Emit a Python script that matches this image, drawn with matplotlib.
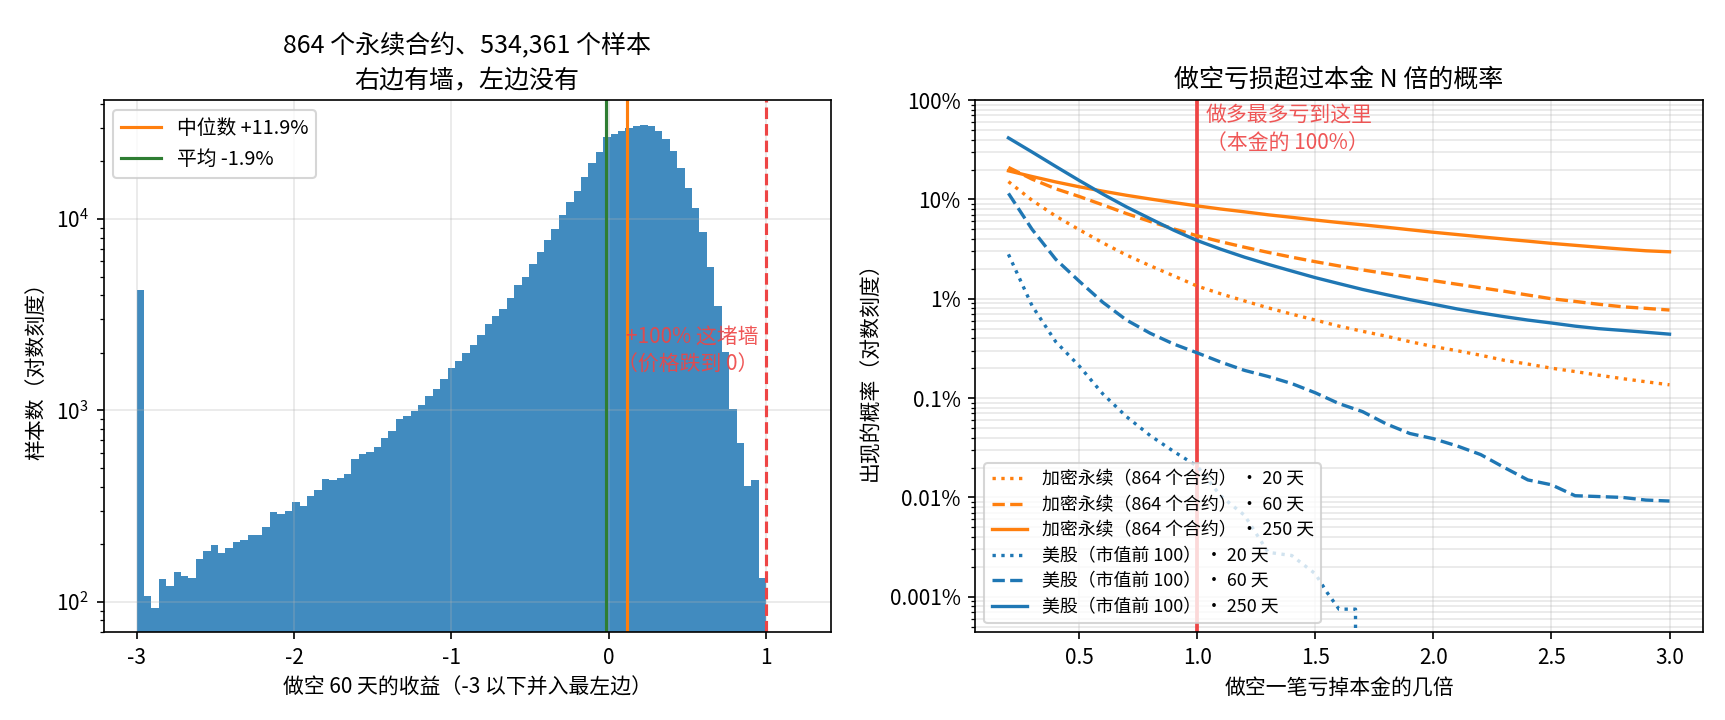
import numpy as np
import matplotlib
matplotlib.use('Agg')
import matplotlib.pyplot as plt
from matplotlib.ticker import FuncFormatter

plt.rcParams['font.family'] = ['Noto Sans CJK SC', 'DejaVu Sans']
plt.rcParams['axes.unicode_minus'] = False

# ---- left: histogram of 60-day short returns (85 bins from -3 to 1) ----
bin_lo, bin_hi, n_bins = -3.0, 1.0, 85
bin_counts = [
    4250, 107, 93, 131, 121, 143, 136, 133, 167, 184,
    198, 180, 191, 205, 210, 223, 223, 245, 294, 287,
    297, 331, 316, 356, 382, 436, 431, 442, 464, 555,
    589, 604, 641, 714, 777, 897, 931, 988, 1062, 1183,
    1288, 1453, 1660, 1808, 1988, 2189, 2471, 2820, 3104, 3380,
    3858, 4511, 4966, 5807, 6711, 7758, 8864, 10490, 12280, 14020,
    16600, 19650, 22300, 26700, 27700, 28900, 30000, 30760, 31040, 30650,
    28900, 26060, 22600, 18570, 14450, 11480, 8600, 5640, 3530, 2010,
    1012, 675, 405, 435, 134,
]
median_ret = 0.119
mean_ret = -0.019
wall_x = 1.0

# ---- right: probability that a short loses more than N x principal ----
mult = [0.2, 0.3, 0.4, 0.5, 0.6, 0.7, 0.8, 0.9, 1.0, 1.1,
        1.2, 1.3, 1.4, 1.5, 1.6, 1.7, 1.8, 1.9, 2.0, 2.1,
        2.2, 2.3, 2.4, 2.5, 2.6, 2.7, 2.8, 2.9, 3.0]
crypto_20 = [0.151, 0.098, 0.068, 0.0495, 0.0365, 0.0275, 0.0215, 0.0170, 0.0134, 0.0112,
             0.0095, 0.0081, 0.0070, 0.0061, 0.0053, 0.0047, 0.0042, 0.0037, 0.0033, 0.0030,
             0.0027, 0.0024, 0.0022, 0.0020, 0.00185, 0.00170, 0.00157, 0.00146, 0.00136]
crypto_60 = [0.210, 0.160, 0.128, 0.107, 0.088, 0.072, 0.060, 0.0505, 0.0430, 0.0375,
             0.0330, 0.0293, 0.0262, 0.0236, 0.0214, 0.0195, 0.0179, 0.0165, 0.0152, 0.0140,
             0.0129, 0.0119, 0.0109, 0.0100, 0.0094, 0.0088, 0.0083, 0.0080, 0.0077]
crypto_250 = [0.194, 0.170, 0.150, 0.134, 0.121, 0.110, 0.101, 0.093, 0.086, 0.080,
              0.075, 0.070, 0.066, 0.062, 0.0585, 0.0555, 0.0525, 0.0495, 0.0467, 0.0443,
              0.0420, 0.0399, 0.0380, 0.0361, 0.0345, 0.0330, 0.0316, 0.0304, 0.0297]
us_60 = [0.115, 0.050, 0.0250, 0.0150, 0.0092, 0.0061, 0.0045, 0.0035, 0.00285, 0.00230,
         0.00190, 0.00165, 0.00140, 0.00113, 0.00088, 0.00073, 0.00055, 0.00044, 0.00039, 0.00033,
         0.00027, 0.00020, 0.00015, 0.000134, 0.000104, 0.000102, 0.000100, 0.000094, 0.000092]
us_250 = [0.416, 0.300, 0.215, 0.155, 0.113, 0.084, 0.064, 0.049, 0.0385, 0.0315,
          0.0262, 0.0222, 0.0190, 0.0163, 0.0142, 0.0124, 0.0110, 0.0098, 0.0088, 0.0079,
          0.0072, 0.0066, 0.0061, 0.0057, 0.0053, 0.0050, 0.0048, 0.0046, 0.0044]
# 20-day US series runs out of samples after ~1.67x
us_20_mult = [0.2, 0.3, 0.4, 0.5, 0.6, 0.7, 0.8, 0.9, 1.0, 1.1,
              1.2, 1.3, 1.4, 1.5, 1.55, 1.6, 1.67, 1.7]
us_20 = [0.028, 0.0085, 0.0037, 0.0021, 0.0011, 0.00065, 0.00042, 0.00029, 0.000206, 0.000103,
         0.000066, 0.000028, 0.000026, 0.000017, 0.000011, 0.0000075, 0.0000075, 0.0]

ORANGE = '#ff7f0e'
BLUE = '#1f77b4'
GREEN = '#2e7d32'
RED = '#ee4545'

fig, (ax1, ax2) = plt.subplots(1, 2, figsize=(11.5, 4.8), dpi=150)
fig.subplots_adjust(left=0.06, right=0.987, bottom=0.122, top=0.861, wspace=0.199)

# LEFT PANEL
edges = np.linspace(bin_lo, bin_hi, n_bins + 1)
ax1.hist(edges[:-1], bins=edges, weights=bin_counts, color=BLUE, alpha=0.85)
ax1.set_yscale('log')
ax1.axvline(median_ret, color=ORANGE, lw=1.5, label=f'中位数 {median_ret*100:+.1f}%')
ax1.axvline(mean_ret, color=GREEN, lw=1.5, label=f'平均 {mean_ret*100:.1f}%')
ax1.axvline(wall_x, color=RED, lw=1.5, ls='--')
ax1.text(0.95, 2050, '+100% 这堵墙\n（价格跌到 0）', color=RED, alpha=0.9,
         fontsize=10, ha='right', va='center', linespacing=1.35)
ax1.set_xlim(-3.21, 1.41)
ax1.set_ylim(69.5, 41800)
ax1.set_xticks([-3, -2, -1, 0, 1])
ax1.set_xticklabels(['-3', '-2', '-1', '0', '1'])
ax1.grid(True, alpha=0.3)
ax1.legend(loc='upper left', fontsize=9.5)
ax1.set_title('864 个永续合约、534,361 个样本\n右边有墙，左边没有', fontsize=12, linespacing=1.4)
ax1.set_xlabel('做空 60 天的收益（-3 以下并入最左边）')
ax1.set_ylabel('样本数（对数刻度）')

# RIGHT PANEL
ax2.axvline(1.0, color=RED, lw=1.8)
crypto_name = '加密永续（864 个合约）'
us_name = '美股（市值前 100）'
ax2.plot(mult, crypto_20, color=ORANGE, ls=':', lw=1.6, label=f'{crypto_name} · 20 天')
ax2.plot(mult, crypto_60, color=ORANGE, ls='--', lw=1.6, label=f'{crypto_name} · 60 天')
ax2.plot(mult, crypto_250, color=ORANGE, ls='-', lw=1.6, label=f'{crypto_name} · 250 天')
ax2.plot(us_20_mult, us_20, color=BLUE, ls=':', lw=1.6, label=f'{us_name} · 20 天')
ax2.plot(mult, us_60, color=BLUE, ls='--', lw=1.6, label=f'{us_name} · 60 天')
ax2.plot(mult, us_250, color=BLUE, ls='-', lw=1.6, label=f'{us_name} · 250 天')
ax2.set_yscale('log')
ax2.set_ylim(4.4e-6, 1.0)
ax2.set_xlim(0.06, 3.14)
ax2.yaxis.set_major_formatter(FuncFormatter(lambda v, p: f'{v*100:g}%'))
ax2.text(1.035, 0.92, '做多最多亏到这里\n（本金的 100%）', color=RED, alpha=0.9,
         fontsize=10, ha='left', va='top', linespacing=1.4)
ax2.grid(True, which='both', alpha=0.3)
ax2.legend(loc='lower left', fontsize=8.6, labelspacing=0.42)
ax2.set_title('做空亏损超过本金 N 倍的概率', fontsize=12)
ax2.set_xlabel('做空一笔亏掉本金的几倍')
ax2.set_ylabel('出现的概率（对数刻度）')

fig.savefig('out.png', dpi=150)
